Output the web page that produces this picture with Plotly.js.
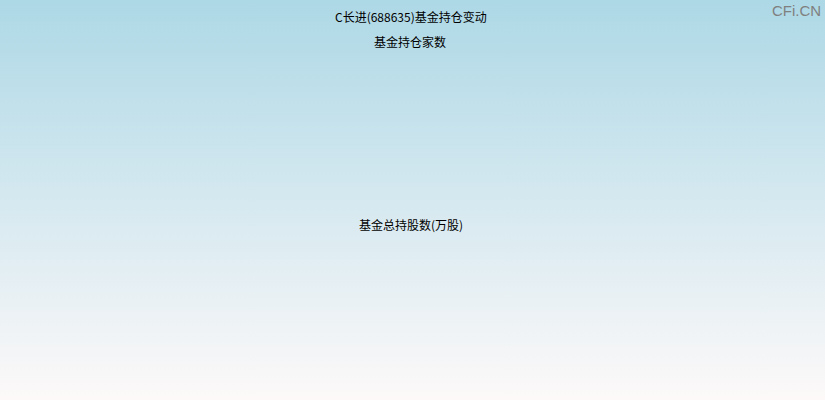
<!DOCTYPE html>
<html><head><meta charset="utf-8">
<script src="https://cdn.plot.ly/plotly-3.0.1.min.js"></script>
<style>
html,body{margin:0;padding:0;}
#chart{width:825px;height:400px;background:linear-gradient(to bottom,#add8e6 0%,#fdf9f9 100%);}
</style></head><body>
<div id="chart"></div>
<script>
// The reference shows no data: both panels are empty.
const chartTitle = 'C长进(688635)基金持仓变动';
const panelTitles = ['基金持仓家数', '基金总持股数(万股)'];
const reportDates = [];
const fundCounts = [];
const fundShares = [];
const watermark = 'CFi.CN';

const traces = [
  {x: reportDates, y: fundCounts, type: 'bar', xaxis: 'x', yaxis: 'y', showlegend: false},
  {x: reportDates, y: fundShares, type: 'bar', xaxis: 'x2', yaxis: 'y2', showlegend: false}
];
const hidden = {visible: false, showgrid: false, zeroline: false};
const font = {family: 'SimSun, "Noto Sans CJK SC", sans-serif', size: 12, color: '#000'};
const layout = {
  width: 825, height: 400,
  margin: {l: 0, r: 0, t: 0, b: 0},
  paper_bgcolor: 'rgba(0,0,0,0)', plot_bgcolor: 'rgba(0,0,0,0)',
  xaxis: Object.assign({domain: [0, 1]}, hidden),
  yaxis: Object.assign({domain: [0.5, 0.88]}, hidden),
  xaxis2: Object.assign({domain: [0, 1], anchor: 'y2'}, hidden),
  yaxis2: Object.assign({domain: [0.05, 0.42], anchor: 'x2'}, hidden),
  annotations: [
    {text: chartTitle, xref: 'paper', yref: 'paper', x: 0.4985, y: 1 - 17/400, xanchor: 'center', yanchor: 'middle', showarrow: false, font: font},
    {text: panelTitles[0], xref: 'paper', yref: 'paper', x: 0.4975, y: 1 - 42/400, xanchor: 'center', yanchor: 'middle', showarrow: false, font: font},
    {text: panelTitles[1], xref: 'paper', yref: 'paper', x: 0.4985, y: 1 - 224/400, xanchor: 'center', yanchor: 'middle', showarrow: false, font: font},
    {text: watermark, xref: 'paper', yref: 'paper', x: 823/825, y: 1 - 10/400, xanchor: 'right', yanchor: 'middle', showarrow: false, font: {family: 'Arial, "Liberation Sans", sans-serif', size: 15, color: '#808080'}}
  ]
};
Plotly.newPlot('chart', traces, layout, {displayModeBar: false, staticPlot: true});
</script>
</body></html>
